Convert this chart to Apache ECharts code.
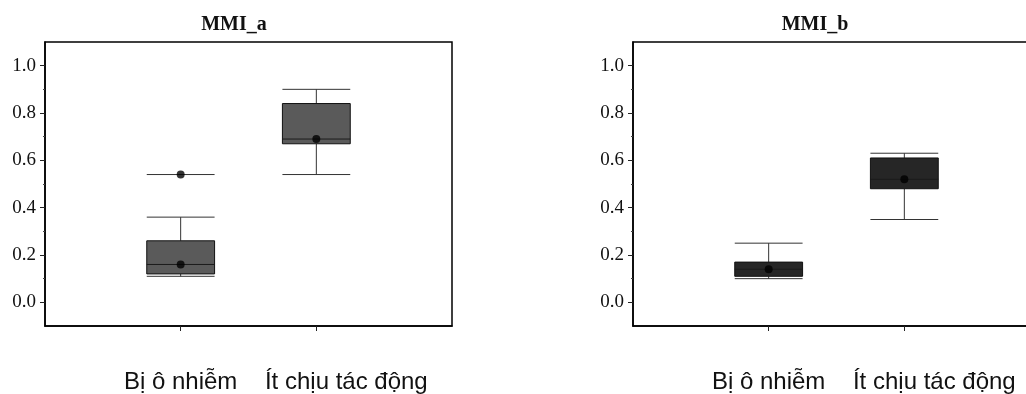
<!DOCTYPE html>
<html>
<head>
<meta charset="utf-8">
<script src="https://cdn.jsdelivr.net/npm/echarts@6/dist/echarts.min.js"></script>
<style>
  html, body { margin: 0; padding: 0; background: #fff; }
  #chart { width: 1026px; height: 394px; }
</style>
</head>
<body>
<div id="chart"></div>
<script>
const categories = ['', 'Bị ô nhiễm', 'Ít chịu tác động', ''];
const yTicks = [0, 0.2, 0.4, 0.6, 0.8, 1.0];
const yMinorTicks = [0.1, 0.3, 0.5, 0.7, 0.9];
const titles = ['MMI_a', 'MMI_b'];

// [category index, min, Q1, median, Q3, max]
const boxA = [[1, 0.11, 0.12, 0.16, 0.26, 0.36], [2, 0.54, 0.67, 0.69, 0.84, 0.90]];
const meanA = [[1, 0.16], [2, 0.69]];
const extraA = [[1, 0.54]];

const boxB = [[1, 0.10, 0.11, 0.14, 0.17, 0.25], [2, 0.35, 0.48, 0.52, 0.61, 0.63]];
const meanB = [[1, 0.14], [2, 0.52]];
const extraB = [];

const boxColors = ['#5a5a5a', '#262626'];
const serif = '"Liberation Serif", "DejaVu Serif", serif';
const sans = '"Liberation Sans", Arial, sans-serif';

const seg = (x1, y1, x2, y2, color) => ({
  type: 'line',
  shape: { x1, y1, x2, y2 },
  style: { stroke: color, lineWidth: 1 },
});

const makeBoxRender = (fill) => (params, api) => {
  const x = api.value(0);
  const p = [1, 2, 3, 4, 5].map((d) => api.coord([x, api.value(d)]));
  const half = api.size([1, 0])[0] * 0.25;
  const cx = p[0][0];
  const l = cx - half;
  const r = cx + half;
  const wc = '#333';
  return {
    type: 'group',
    children: [
      seg(cx, p[4][1], cx, p[3][1], wc),
      seg(cx, p[1][1], cx, p[0][1], wc),
      seg(l, p[4][1], r, p[4][1], wc),
      seg(l, p[0][1], r, p[0][1], wc),
      {
        type: 'rect',
        shape: { x: l, y: p[3][1], width: r - l, height: p[1][1] - p[3][1] },
        style: { fill, stroke: '#111', lineWidth: 1 },
      },
      seg(l, p[2][1], r, p[2][1], '#1a1a1a'),
    ],
  };
};

const renderExtra = (params, api) => {
  const pt = api.coord([api.value(0), api.value(1)]);
  const half = api.size([1, 0])[0] * 0.25;
  return seg(pt[0] - half, pt[1], pt[0] + half, pt[1], '#333');
};

const grids = [
  { left: 45, top: 42, width: 407, height: 284 },
  { left: 633, top: 42, width: 407, height: 284 },
];

const xAxes = [];
const yAxes = [];
const series = [];
const titleList = [];
const sets = [
  { box: boxA, mean: meanA, extra: extraA },
  { box: boxB, mean: meanB, extra: extraB },
];

grids.forEach((g, i) => {
  titleList.push({
    text: titles[i],
    left: i === 0 ? 234 : 815,
    top: 15,
    padding: 0,
    textAlign: 'center',
    textStyle: { fontFamily: serif, fontWeight: 'bold', fontSize: 20, color: '#111' },
  });
  xAxes.push({
    type: 'category',
    gridIndex: i,
    data: categories,
    boundaryGap: false,
    axisLine: { show: true, onZero: false, lineStyle: { color: '#000', width: 1.5 } },
    axisTick: { show: true, length: 5, interval: (idx) => idx === 1 || idx === 2, lineStyle: { color: '#222' } },
    axisLabel: {
      interval: (idx) => idx === 1 || idx === 2,
      margin: 44,
      fontFamily: sans,
      fontSize: 24,
      color: '#111',
      formatter: (v, idx) => (idx === 2 ? '{r|' + v + '}' : v),
      rich: { r: { padding: [0, 0, 0, 60], fontFamily: sans, fontSize: 24, color: '#111' } },
    },
    splitLine: { show: false },
  });
  yAxes.push({
    type: 'value',
    gridIndex: i,
    position: 'left',
    min: -0.1,
    max: 1.1,
    axisLine: { show: true, onZero: false, lineStyle: { color: '#000', width: 1.5 } },
    axisTick: { show: true, customValues: yTicks, length: 5, lineStyle: { color: '#222' } },
    axisLabel: {
      customValues: yTicks,
      margin: 9,
      fontFamily: serif,
      fontSize: 19,
      color: '#111',
      formatter: (v) => v.toFixed(1),
    },
    splitLine: { show: false },
  });
  yAxes.push({
    type: 'value',
    gridIndex: i,
    position: 'left',
    min: -0.1,
    max: 1.1,
    axisLine: { show: false, onZero: false },
    axisTick: { show: true, customValues: yMinorTicks, length: 2, lineStyle: { color: '#444' } },
    axisLabel: { show: false },
    splitLine: { show: false },
  });
  const s = sets[i];
  series.push({
    type: 'custom',
    xAxisIndex: i,
    yAxisIndex: i * 2,
    renderItem: makeBoxRender(boxColors[i]),
    encode: { x: 0, y: [1, 2, 3, 4, 5] },
    data: s.box,
    z: 2,
  });
  series.push({
    type: 'custom',
    xAxisIndex: i,
    yAxisIndex: i * 2,
    renderItem: renderExtra,
    encode: { x: 0, y: 1 },
    data: s.extra,
    z: 2,
  });
  series.push({
    type: 'scatter',
    xAxisIndex: i,
    yAxisIndex: i * 2,
    symbol: 'circle',
    symbolSize: 8,
    itemStyle: { color: '#000' },
    data: s.mean.concat(s.extra),
    z: 3,
  });
});

const chart = echarts.init(document.getElementById('chart'));
chart.setOption({
  animation: false,
  backgroundColor: '#fff',
  title: titleList,
  grid: grids.map((g) => Object.assign({
    show: true,
    borderColor: '#000',
    borderWidth: 1.5,
    backgroundColor: 'transparent',
    outerBoundsMode: 'none',
  }, g)),
  xAxis: xAxes,
  yAxis: yAxes,
  series,
});
</script>
</body>
</html>
